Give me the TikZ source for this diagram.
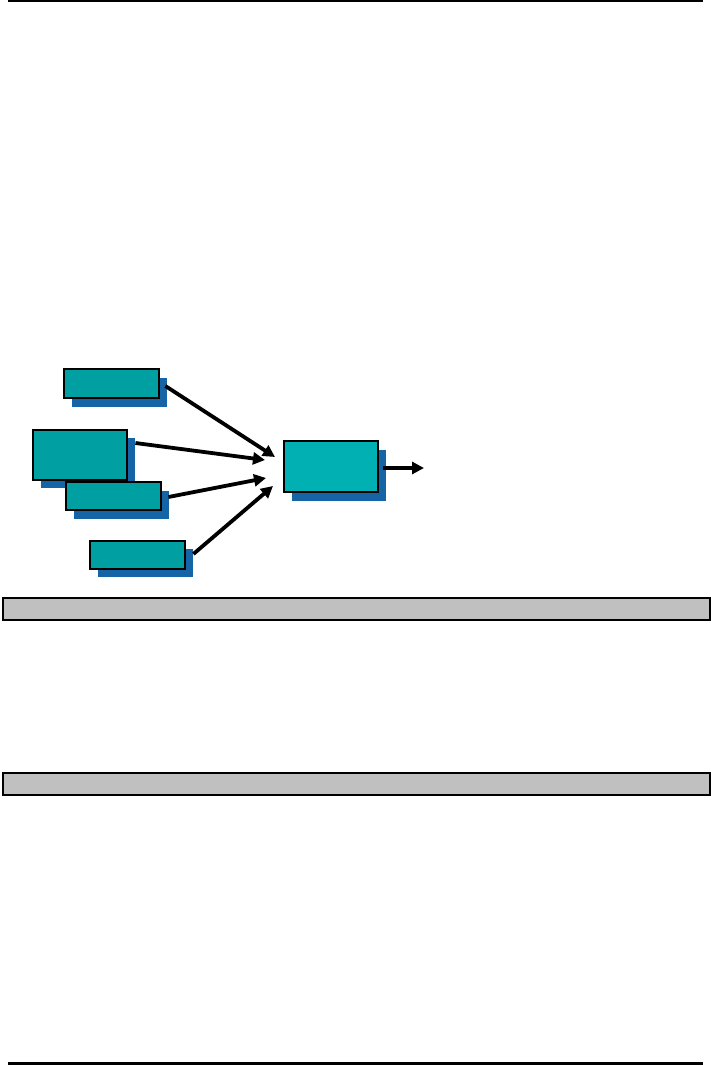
\documentclass[tikz,border=0pt]{standalone}
\usetikzlibrary{arrows.meta}
\definecolor{boxteal}{HTML}{00A0A2}
\definecolor{boxlight}{HTML}{00B0B2}
\definecolor{shadowblue}{HTML}{1565A6}
\definecolor{bargray}{HTML}{C0C0C0}
\begin{document}
\begin{tikzpicture}[x=1pt,y=-1pt,
  shadowbox/.style={fill=shadowblue, draw=none, inner sep=0pt, anchor=north west},
  srcbox/.style={fill=boxteal, draw=black, line width=2.2pt, inner sep=0pt, anchor=north west},
  flow/.style={line width=3.8pt, -{Triangle[length=12pt,width=12pt]}},
  bar/.style={fill=bargray, draw=black, line width=2pt, inner sep=0pt, anchor=north west}]
\fill[white] (0,0) rectangle (710,1066);
\useasboundingbox (0,0) rectangle (710,1066);
% rules
\draw[line width=2pt] (8,1) coordinate (t1) -- (703,1) coordinate (t2);
\draw[line width=3pt] (8,1063) coordinate (b1) -- (703,1063) coordinate (b2);
% shadows
\node[shadowbox, minimum width=95pt, minimum height=29pt] (sA) at (72,378) {};
\node[shadowbox, minimum width=94pt, minimum height=50pt] (sB) at (41,438) {};
\node[shadowbox, minimum width=95pt, minimum height=28pt] (sC) at (74,491) {};
\node[shadowbox, minimum width=95pt, minimum height=28pt] (sD) at (98,549) {};
\node[shadowbox, minimum width=94pt, minimum height=51pt] (sE) at (292,450) {};
% boxes
\node[srcbox, minimum width=95pt, minimum height=29pt] (A) at (63,368) {};
\node[srcbox, minimum width=94pt, minimum height=50pt] (B) at (32,429) {};
\node[shadowbox, minimum width=95pt, minimum height=28pt] at (74,491) {};
\node[srcbox, minimum width=95pt, minimum height=28pt] (C) at (65,481) {};
\node[srcbox, minimum width=95pt, minimum height=28pt] (D) at (89,540) {};
\node[srcbox, fill=boxlight, minimum width=94pt, minimum height=51pt] (E) at (283,440) {};
% arrow ends
\coordinate (eA) at (275,457);
\coordinate (eB) at (265,460);
\coordinate (eC) at (266,478);
\coordinate (eD) at (273,486);
\coordinate (eE) at (424,468);
\draw[flow] ([shift={(-2,8)}]sA.north east) -- (eA);
\draw[flow] ([shift={(0,5)}]sB.north east) -- (eB);
\draw[flow] ([shift={(-1,6)}]sC.north east) -- (eC);
\draw[flow] ([shift={(0,5)}]sD.north east) -- (eD);
\draw[flow] ([shift={(-3,18)}]sE.north east) -- (eE);
% gray bars
\node[bar, minimum width=707pt, minimum height=22pt] (bar1) at (1.5,596.5) {};
\node[bar, minimum width=707pt, minimum height=22pt] (bar2) at (1.5,771.5) {};
\end{tikzpicture}
\end{document}
